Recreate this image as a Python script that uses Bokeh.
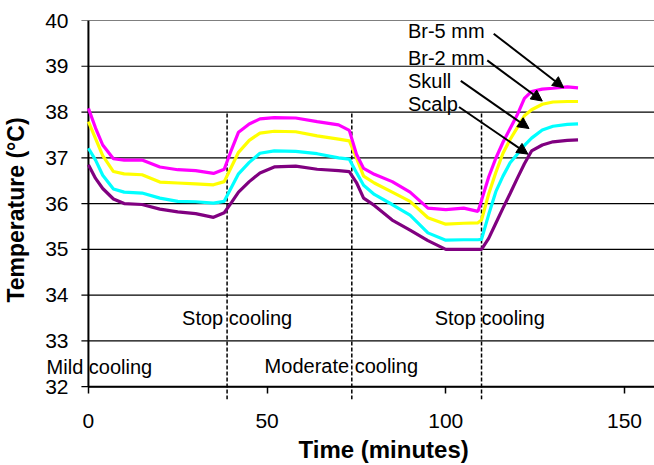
import numpy as np
from bokeh.plotting import figure
from bokeh.models import Range1d, FixedTicker, Label, Arrow, NormalHead, Title
from bokeh.embed import file_html
from bokeh.resources import INLINE

# ---- data ----
time_min = [0, 2, 4, 7, 10, 15, 20, 25, 30, 35, 38, 40, 42, 45, 48, 52, 58, 64, 70, 73,
            75, 77, 80, 85, 90, 95, 100, 105, 109, 110, 112, 114, 116, 118, 120, 122, 124, 127, 130, 134, 137]
br5 = [38.08, 37.65, 37.28, 36.98, 36.95, 36.95, 36.80, 36.74, 36.72, 36.66, 36.75, 37.17, 37.56, 37.74, 37.85, 37.88, 37.87, 37.79, 37.72, 37.60,
       37.08, 36.77, 36.64, 36.48, 36.25, 35.90, 35.87, 35.90, 35.83, 36.07, 36.58, 36.99, 37.34, 37.64, 37.94, 38.30, 38.45, 38.50, 38.52, 38.55, 38.53]
br2 = [37.79, 37.42, 37.05, 36.70, 36.65, 36.63, 36.47, 36.45, 36.43, 36.41, 36.48, 36.80, 37.12, 37.38, 37.54, 37.58, 37.57, 37.48, 37.41, 37.37,
       37.00, 36.60, 36.45, 36.25, 36.05, 35.69, 35.55, 35.57, 35.58, 35.64, 36.21, 36.68, 37.10, 37.40, 37.66, 37.92, 38.05, 38.17, 38.22, 38.23, 38.23]
skull = [37.21, 36.95, 36.62, 36.32, 36.25, 36.23, 36.12, 36.05, 36.04, 36.01, 36.05, 36.35, 36.65, 36.90, 37.10, 37.15, 37.14, 37.09, 37.00, 36.97,
         36.68, 36.40, 36.20, 35.98, 35.75, 35.36, 35.20, 35.21, 35.21, 35.22, 35.76, 36.26, 36.60, 36.89, 37.08, 37.27, 37.43, 37.61, 37.69, 37.73, 37.74]
scalp = [36.85, 36.55, 36.33, 36.10, 36.00, 35.98, 35.88, 35.82, 35.78, 35.70, 35.80, 36.02, 36.25, 36.48, 36.67, 36.80, 36.82, 36.75, 36.72, 36.70,
         36.46, 36.12, 35.96, 35.64, 35.42, 35.19, 35.00, 35.00, 35.00, 35.00, 35.24, 35.57, 35.90, 36.22, 36.55, 36.87, 37.15, 37.28, 37.35, 37.38, 37.39]

series_names = ["Br-5 mm", "Br-2 mm", "Skull", "Scalp"]

event_times = [38.8, 73.7, 110.0]
phase_texts = ["Mild cooling", "Stop cooling", "Moderate cooling", "Stop cooling"]

x_ticks = [0, 50, 100, 150]
y_ticks = [32, 33, 34, 35, 36, 37, 38, 39, 40]

FONT = "Liberation Sans"
X_MIN, X_MAX = 0, 158.4
X_FRAME_MIN = -13.13
X_TICK_LEN = 1.96          # y tick length expressed in x units (7 px)
Y_MIN, Y_MAX = 32, 40
Y_FRAME_MIN = 31.72

p = figure(width=654, height=465, output_backend="svg", toolbar_location=None,
           x_range=Range1d(X_FRAME_MIN, X_MAX), y_range=Range1d(Y_FRAME_MIN, Y_MAX),
           min_border_left=39, min_border_right=0, min_border_top=20, min_border_bottom=66)
p.outline_line_color = None
p.background_fill_color = "white"
p.border_fill_color = "white"
p.xgrid.visible = False
p.ygrid.visible = False

# y axis (drawn at frame edge; labels shifted to sit left of x = 0)
ya = p.yaxis[0]
ya.ticker = FixedTicker(ticks=y_ticks)
ya.axis_label = "Temperature (°C)"
ya.axis_label_text_font = FONT
ya.axis_label_text_font_style = "bold"
ya.axis_label_text_font_size = "23px"
ya.axis_label_text_color = "black"
ya.axis_label_standoff = 13
ya.major_label_text_font = FONT
ya.major_label_text_font_size = "21px"
ya.major_label_text_color = "black"
ya.major_label_standoff = -33
ya.major_tick_line_color = None
ya.minor_tick_line_color = None
ya.axis_line_color = None

# horizontal gridlines (each begins one tick length left of x = 0, forming the y ticks)
n_y = len(y_ticks)
p.segment(x0=[X_MIN - X_TICK_LEN] * n_y, y0=y_ticks, x1=[X_MAX] * n_y, y1=y_ticks,
          line_color="black", line_width=1.2)
# axis lines at x = 0 and y = 32
p.segment(x0=[X_MIN, X_MIN], y0=[Y_MIN, Y_MIN], x1=[X_MIN, X_MAX], y1=[Y_MAX, Y_MIN],
          line_color="black", line_width=2)

# x axis: drawn at frame bottom, ticks shifted up to start at y=32
xa = p.xaxis[0]
xa.ticker = FixedTicker(ticks=x_ticks)
xa.major_label_text_font = FONT
xa.major_label_text_font_size = "21px"
xa.major_label_text_color = "black"
xa.major_label_standoff = 14
xa.major_tick_in = 13
xa.major_tick_out = -6
xa.minor_tick_line_color = None
xa.axis_line_color = None
xa.major_tick_line_color = "black"
xa.major_tick_line_width = 1.5

p.add_layout(Title(text="Time (minutes)", align="left", offset=257, standoff=6,
                   text_font=FONT, text_font_size="24px", text_font_style="bold",
                   text_color="black"), "below")

# dashed event lines
p.segment(x0=event_times, y0=[37.97] * 3, x1=event_times, y1=[Y_FRAME_MIN] * 3,
          line_color="black", line_width=1.5, line_dash="4 2")

# series
for ys, c in zip([scalp, skull, br2, br5], ["#800080", "#00FFFF", "#FFFF00", "#FF00FF"]):
    p.line(time_min, ys, line_color=c, line_width=3.2)

# phase annotations
phase_pos = [(-11.7, 32.44), (26.2, 33.50), (49.3, 32.45), (96.9, 33.50)]
for t, (xx, yy) in zip(phase_texts, phase_pos):
    p.add_layout(Label(x=xx, y=yy, text=t, text_font=FONT, text_font_size="20px",
                       text_color="black", text_baseline="alphabetic", text_align="left"))

# series labels and arrows
label_y = [39.77, 39.19, 38.68, 38.17]
tails = [(113.4, 39.71), (111.6, 39.13), (104.2, 38.68), (103.7, 38.11)]
heads = [(133.0, 38.53), (127.0, 38.24), (123.3, 37.64), (123.0, 37.08)]
for name, ly, (tx, ty), (hx, hy) in zip(series_names, label_y, tails, heads):
    p.add_layout(Label(x=89.4, y=ly, text=name, text_font=FONT, text_font_size="20px",
                       text_color="black", text_baseline="alphabetic", text_align="left"))
    p.add_layout(Arrow(end=NormalHead(size=11, fill_color="black", line_color="black"),
                       x_start=tx, y_start=ty, x_end=hx, y_end=hy,
                       line_color="black", line_width=2))

open("out.html", "w").write(file_html(p, INLINE))
